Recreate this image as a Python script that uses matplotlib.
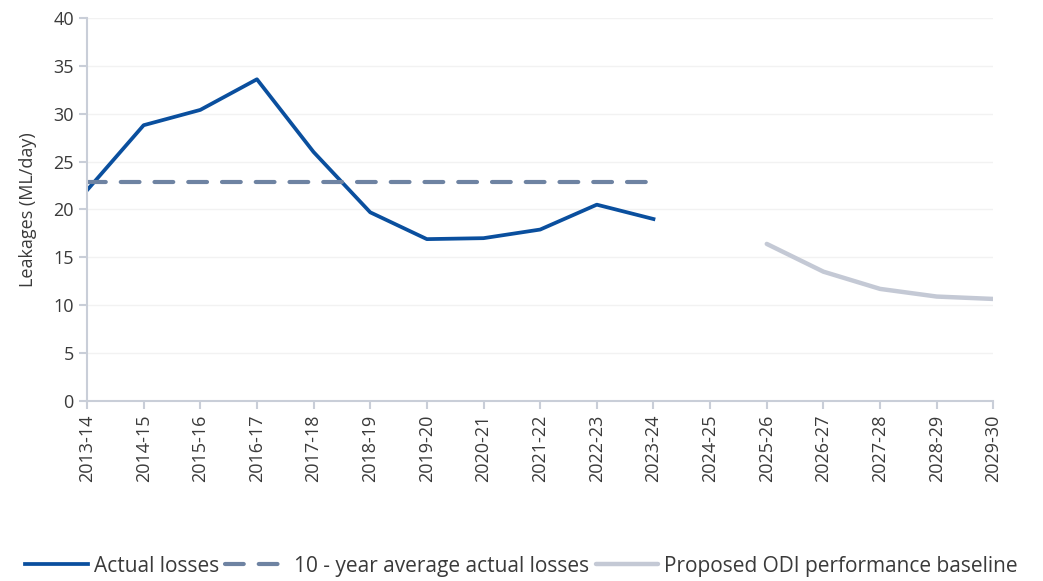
import numpy as np
import matplotlib.pyplot as plt

years = ["2013-14", "2014-15", "2015-16", "2016-17", "2017-18", "2018-19",
         "2019-20", "2020-21", "2021-22", "2022-23", "2023-24", "2024-25",
         "2025-26", "2026-27", "2027-28", "2028-29", "2029-30"]
actual = [22.0, 28.8, 30.4, 33.6, 26.0, 19.7, 16.9, 17.0, 17.9, 20.5, 19.0]
average = [22.9] * 11
baseline_years = years[12:]
baseline = [16.4, 13.5, 11.7, 10.9, 10.65]

plt.rcParams['font.family'] = ['Open Sans', 'DejaVu Sans']
text_col = "#3a3a3a"

fig = plt.figure(figsize=(10.43, 5.81), dpi=100)
ax = fig.add_axes([0.0834, 0.310, 0.869, 0.659])

x = np.arange(len(years))
ax.plot(x[:len(actual)], actual, color="#0a4f9e", lw=2.7,
        solid_joinstyle="round", label="Actual losses")
ax.plot(x[:len(average)], average, color="#6e83a2", lw=3.0,
        dashes=(4.5, 3.6), dash_capstyle="round",
        label="10 - year average actual losses")
ax.plot(x[12:], baseline, color="#c4c9d5", lw=3.2,
        solid_capstyle="round", label="Proposed ODI performance baseline")

ax.set_xlim(0, len(years) - 1)
ax.set_ylim(0, 40)
ax.set_yticks(range(0, 41, 5))
ax.set_xticks(x)
ax.set_xticklabels(years, rotation=90)
ax.grid(axis="y", color="#f2f2f2", lw=1)
ax.set_axisbelow(True)

for side in ["top", "right"]:
    ax.spines[side].set_visible(False)
for side in ["left", "bottom"]:
    ax.spines[side].set_color("#c9ced8")
    ax.spines[side].set_linewidth(1.5)

ax.tick_params(axis="x", colors="#c9ced8", labelcolor=text_col,
               labelsize=13, length=6, width=1.5, pad=4)
ax.tick_params(axis="y", colors="#c9ced8", labelcolor=text_col,
               labelsize=13, length=6, width=1.5)
ax.set_ylabel("Leakages (ML/day)", color=text_col, fontsize=13, labelpad=12)

fig.legend(loc="lower center", bbox_to_anchor=(0.5, -0.025), ncol=3,
           frameon=False, fontsize=15, labelcolor=text_col,
           handlelength=3.0, handletextpad=0.3, columnspacing=0.3)

fig.savefig("out.png", dpi=100)
